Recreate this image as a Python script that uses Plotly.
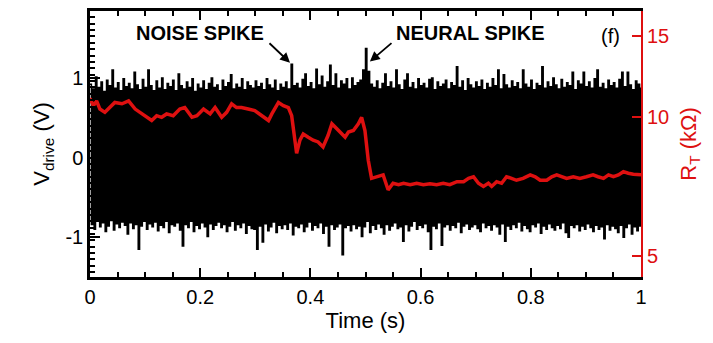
import plotly.graph_objects as go

RED = "rgb(222,16,16)"

# sample times of the drive-voltage extremes (s)
t_top = [round(0.005 * i, 4) for i in range(201)]
t_bot = [round(0.0025 + 0.005 * j, 4) for j in range(200)]

# upper extremes of V_drive (V)
v_top = [
    0.92, 0.86, 1.01, 0.88, 0.95, 0.83, 0.97, 0.90, 1.10, 0.87,
    0.94, 0.84, 0.99, 0.89, 0.93, 0.86, 1.07, 0.91, 0.85, 0.98,
    0.88, 1.10, 0.90, 0.84, 0.96, 0.87, 1.00, 0.85, 0.93, 0.89,
    0.97, 0.84, 1.05, 0.90, 0.86, 0.95, 0.88, 0.99, 0.83, 0.92,
    0.87, 0.96, 0.85, 0.93, 1.00, 0.88, 0.91, 0.84, 0.97, 0.89,
    0.94, 1.04, 0.86, 0.92, 0.88, 0.99, 0.85, 0.95, 0.90, 0.87,
    0.96, 0.89, 0.93, 0.85, 0.99, 0.91, 0.87, 0.97, 0.84, 0.92,
    0.88, 0.95, 0.86, 1.17, 0.90, 0.93, 0.87, 0.98, 1.05, 0.89,
    0.94, 0.86, 1.11, 0.91, 1.02, 0.88, 0.95, 1.16, 0.90, 1.05,
    0.87, 0.96, 0.92, 0.99, 0.86, 1.00, 0.90, 0.94, 0.97, 1.10,
    1.37, 1.08, 0.92, 0.88, 0.96, 0.86, 0.93, 1.05, 0.89, 0.95,
    0.87, 1.10, 0.91, 0.85, 0.97, 1.05, 0.88, 0.94, 0.86, 0.99,
    0.90, 0.93, 0.87, 0.98, 1.00, 0.85, 0.95, 0.89, 0.92, 0.97,
    0.86, 0.94, 0.90, 1.14, 0.88, 0.96, 0.84, 0.99, 0.91, 0.87,
    0.95, 0.89, 0.97, 0.85, 0.93, 0.88, 0.99, 0.90, 1.10, 0.86,
    1.04, 0.91, 0.87, 0.96, 0.89, 0.94, 0.86, 1.10, 0.92, 0.88,
    0.97, 0.85, 0.93, 0.90, 1.14, 0.87, 0.95, 0.89, 1.00, 0.91,
    0.86, 0.98, 0.88, 0.94, 0.90, 1.07, 0.85, 0.96, 0.92, 1.07,
    0.89, 0.95, 0.87, 0.99, 1.10, 0.88, 0.93, 0.86, 0.97, 0.90,
    0.94, 0.87, 0.98, 1.07, 0.89, 1.07, 0.91, 0.85, 0.96, 0.92,
    0.88,
]

# lower extremes of V_drive (V)
v_bot = [
    -0.84, -0.90, -0.80, -0.87, -0.82, -0.93, -0.86, -0.79, -0.91, -0.83,
    -0.88, -0.81, -0.85, -0.96, -0.82, -0.89, -0.84, -1.15, -0.86, -0.80,
    -0.90, -0.83, -0.87, -0.81, -0.92, -0.85, -0.88, -0.80, -0.94, -0.84,
    -0.86, -0.82, -0.91, -1.11, -0.84, -0.88, -0.80, -0.93, -0.85, -0.89,
    -0.82, -0.87, -0.99, -0.83, -0.90, -0.85, -0.81, -0.88, -0.84, -0.93,
    -0.86, -0.80, -0.91, -0.84, -0.88, -0.82, -0.95, -0.85, -0.89, -0.90,
    -1.15, -0.86, -1.06, -0.83, -0.92, -0.87, -0.81, -0.94, -0.85, -0.89,
    -0.84, -0.90, -0.82, -0.97, -0.86, -0.88, -0.83, -0.93, -0.87, -0.81,
    -0.91, -0.85, -0.88, -0.82, -0.95, -0.86, -1.11, -0.84, -0.90, -0.87,
    -0.83, -1.22, -0.88, -0.85, -0.92, -0.84, -0.89, -0.86, -0.99, -0.87,
    -0.80, -0.94, -0.85, -0.90, -0.83, -0.88, -0.96, -0.84, -0.91, -0.86,
    -0.82, -0.89, -0.87, -1.05, -0.84, -0.92, -0.86, -0.80, -0.90, -0.85,
    -0.88, -0.83, -0.93, -1.15, -0.86, -0.89, -0.82, -1.10, -0.87, -0.84,
    -0.91, -0.85, -0.88, -0.81, -0.94, -0.86, -0.83, -0.90, -0.87, -0.84,
    -0.89, -0.93, -0.82, -0.88, -0.85, -0.91, -0.84, -0.87, -0.96, -0.83,
    -1.05, -0.86, -0.90, -0.84, -0.88, -0.81, -0.92, -0.85, -0.89, -0.93,
    -0.84, -0.87, -0.82, -0.95, -0.86, -0.90, -0.83, -0.88, -0.91, -0.85,
    -0.89, -0.82, -0.94, -1.00, -0.85, -0.88, -0.84, -0.92, -0.86, -0.90,
    -0.83, -0.88, -0.93, -0.85, -0.90, -0.87, -1.02, -0.84, -0.91, -0.86,
    -0.89, -0.94, -0.85, -1.00, -0.88, -0.83, -0.96, -0.87, -0.92, -0.86,
]

# R_T trace (kOhm)
t_rt = [
    0.000, 0.006, 0.012, 0.018, 0.027, 0.036, 0.045, 0.058, 0.070, 0.082,
    0.094, 0.103, 0.112, 0.121, 0.130, 0.139, 0.151, 0.163, 0.172, 0.185,
    0.194, 0.206, 0.218, 0.227, 0.239, 0.248, 0.257, 0.266, 0.275, 0.287,
    0.299, 0.312, 0.324, 0.330, 0.342, 0.351, 0.360, 0.366, 0.372, 0.375,
    0.381, 0.387, 0.396, 0.405, 0.414, 0.423, 0.432, 0.439, 0.448, 0.457,
    0.463, 0.469, 0.478, 0.487, 0.493, 0.499, 0.505, 0.511, 0.523, 0.532,
    0.541, 0.550, 0.560, 0.569, 0.581, 0.593, 0.605, 0.617, 0.629, 0.641,
    0.653, 0.666, 0.678, 0.687, 0.696, 0.705, 0.714, 0.723, 0.729, 0.738,
    0.747, 0.756, 0.765, 0.774, 0.786, 0.799, 0.808, 0.817, 0.829, 0.838,
    0.847, 0.856, 0.865, 0.877, 0.889, 0.901, 0.913, 0.922, 0.932, 0.941,
    0.950, 0.959, 0.968, 0.977, 0.986, 1.000,
]
r_t = [
    11.0, 10.6, 10.85, 10.42, 10.25, 10.5, 10.77, 10.7, 10.85, 10.42,
    10.17, 10.0, 9.84, 10.08, 10.0, 10.17, 10.08, 10.42, 10.5, 10.0,
    10.08, 10.42, 10.17, 10.5, 10.0, 10.25, 10.7, 10.5, 10.5, 10.42,
    10.34, 10.08, 9.84, 10.17, 10.77, 10.6, 10.5, 10.08, 8.99, 8.35,
    8.92, 9.2, 9.05, 8.92, 8.84, 8.62, 9.13, 9.68, 9.44, 9.2,
    9.05, 9.29, 9.36, 9.68, 10.0, 9.36, 8.07, 7.37, 7.43, 7.5,
    6.96, 7.19, 7.14, 7.19, 7.14, 7.19, 7.14, 7.17, 7.14, 7.19,
    7.14, 7.25, 7.25, 7.37, 7.43, 7.19, 7.08, 7.19, 7.08, 7.25,
    7.19, 7.43, 7.37, 7.3, 7.37, 7.5, 7.43, 7.3, 7.3, 7.43,
    7.5, 7.43, 7.37, 7.43, 7.37, 7.43, 7.5, 7.43, 7.37, 7.5,
    7.43, 7.5, 7.62, 7.56, 7.52, 7.5,
]

x_ticks = [0, 0.2, 0.4, 0.6, 0.8, 1]
x_ticktext = ["0", "0.2", "0.4", "0.6", "0.8", "1"]
v_ticks = [-1, 0, 1]
v_ticktext = ["-1", "0", "1"]
r_ticks = [5, 10, 15]
r_ticktext = ["5", "10", "15"]

# interleave upper and lower extremes into one drive trace
t_drive, v_drive = [], []
for i in range(len(v_bot)):
    t_drive += [t_top[i], t_bot[i]]
    v_drive += [v_top[i], v_bot[i]]
t_drive.append(t_top[-1])
v_drive.append(v_top[-1])

FONT = "Liberation Sans, Arial, sans-serif"

fig = go.Figure()
fig.add_trace(go.Scatter(
    x=t_drive, y=v_drive, mode="lines",
    line=dict(color="black", width=1.5, shape="hv"),
    hoverinfo="skip", showlegend=False,
))
fig.add_trace(go.Scatter(
    x=t_rt, y=r_t, mode="lines", yaxis="y2",
    line=dict(color=RED, width=3.5),
    showlegend=False,
))

fig.update_layout(
    width=713, height=343,
    margin=dict(l=90, r=72, t=8, b=66),
    paper_bgcolor="white", plot_bgcolor="white",
    font=dict(family=FONT, size=20, color="black"),
    showlegend=False,
    xaxis=dict(
        range=[0, 1], tickvals=x_ticks, ticktext=x_ticktext,
        showgrid=False, zeroline=False,
        showline=True, linecolor="black", linewidth=2.5, mirror="ticks",
        ticks="inside", ticklen=9, tickwidth=2, tickcolor="black",
        minor=dict(dtick=0.05, ticks="inside", ticklen=5, tickwidth=1.5, tickcolor="black"),
        tickfont=dict(size=20, family=FONT),
        title=dict(text="Time (s)", font=dict(size=22, family=FONT), standoff=6),
    ),
    yaxis=dict(
        range=[-1.50, 1.84], tickvals=v_ticks, ticktext=v_ticktext,
        showgrid=False, zeroline=False,
        showline=True, linecolor="black", linewidth=2.5, mirror=False,
        ticks="inside", ticklen=10, tickwidth=2, tickcolor="black",
        minor=dict(dtick=0.08, ticks="inside", ticklen=5, tickwidth=1.5, tickcolor="black"),
        tickfont=dict(size=20, family=FONT),
        title=dict(text="V<sub>drive</sub> (V)", font=dict(size=22, family=FONT), standoff=10),
    ),
    yaxis2=dict(
        overlaying="y", side="right", type="log",
        range=[0.6534, 1.2307], tickvals=r_ticks, ticktext=r_ticktext,
        showgrid=False, zeroline=False,
        showline=True, linecolor=RED, linewidth=2,
        ticks="inside", ticklen=9, tickwidth=2, tickcolor=RED,
        tickfont=dict(size=20, family=FONT, color=RED),
        title=dict(text="R<sub>T</sub> (kΩ)", font=dict(size=22, family=FONT, color=RED), standoff=12),
    ),
    annotations=[
        dict(x=0.2, y=1.565, xref="x", yref="y", text="<b>NOISE SPIKE</b>",
             showarrow=False, font=dict(size=20, family=FONT, color="black")),
        dict(x=0.6906, y=1.565, xref="x", yref="y", text="<b>NEURAL SPIKE</b>",
             showarrow=False, font=dict(size=20, family=FONT, color="black")),
        dict(x=0.945, y=1.53, xref="x", yref="y", text="(f)",
             showarrow=False, font=dict(size=20, family=FONT, color="black")),
        dict(x=0.363, y=1.19, ax=0.323, ay=1.453, xref="x", yref="y",
             axref="x", ayref="y", text="", showarrow=True,
             arrowhead=2, arrowsize=1.1, arrowwidth=1.8, arrowcolor="black"),
        dict(x=0.508, y=1.205, ax=0.5499, ay=1.453, xref="x", yref="y",
             axref="x", ayref="y", text="", showarrow=True,
             arrowhead=2, arrowsize=1.1, arrowwidth=1.8, arrowcolor="black"),
    ],
)

fig.write_html("out.html")
